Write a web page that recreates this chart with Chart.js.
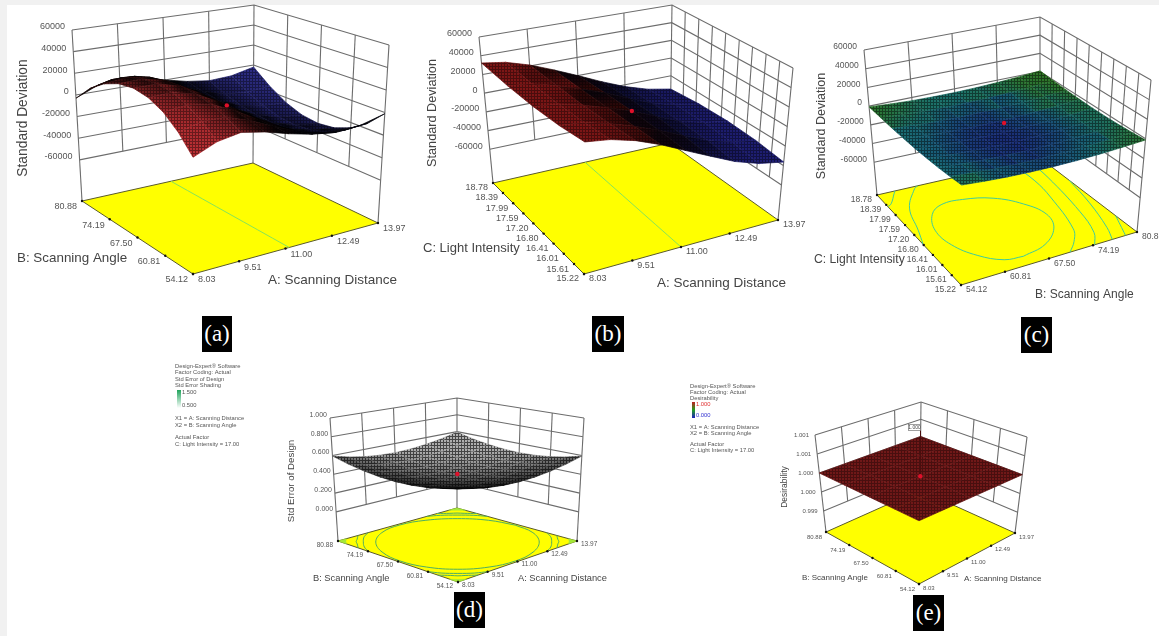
<!DOCTYPE html>
<html>
<head>
<meta charset="utf-8">
<title>Response surfaces</title>
<script src="https://cdn.jsdelivr.net/npm/chart.js@4"></script>
<style>
  html, body { margin: 0; padding: 0; background: #f1f1f1; overflow: hidden; }
  #sheet { position: absolute; left: 7px; top: 5px; width: 1152px; height: 631px; background: #fff; }
  canvas { position: absolute; }
  .tag {
    position: absolute; background: #000; color: #fff; text-align: center;
    font: 23px/35px "Liberation Serif", serif; height: 36px;
  }
</style>
</head>
<body>
<div id="sheet"></div>
<div id="page"></div>
<script>
// axis ticks
const distanceTicks = ["8.03", "9.51", "11.00", "12.49", "13.97"];
const angleTicks = ["54.12", "60.81", "67.50", "74.19", "80.88"];
const lightTicks = ["15.22", "15.61", "16.01", "16.41", "16.80", "17.20", "17.59", "17.99", "18.39", "18.78"];
const stdDevTicks = [-60000, -40000, -20000, 0, 20000, 40000, 60000];
const stdDevLabels = ["-60000", "-40000", "-20000", "0", "20000", "40000", "60000"];
const stdErrTicks = [0, 0.2, 0.4, 0.6, 0.8, 1];
const stdErrLabels = ["0.000", "0.200", "0.400", "0.600", "0.800", "1.000"];
const desirTicks = [0.999, 0.9995, 1, 1.0005, 1.001];
const desirLabels = ["0.999", "1.000", "1.000", "1.001", "1.001"];

// surface heights: one row per step of the second factor, one column per step of the first
const surfaceA = [
  [-2000, 6500, 10000, 6000, 0, -5000, -8000, -6500, -1000],
  [12600, 17400, 16900, 9900, 600, -8100, -14600, -16600, -15100],
  [23400, 25500, 22300, 12800, 1000, -10300, -19300, -23800, -24800],
  [29800, 30400, 25400, 14400, 1200, -11600, -22100, -28100, -30600],
  [32000, 32000, 26500, 15000, 1300, -12000, -23000, -29500, -32500],
  [29800, 30400, 25400, 14400, 1200, -11600, -22100, -28100, -30600],
  [23400, 25500, 22300, 12800, 1000, -10300, -19300, -23800, -24800],
  [12600, 17400, 16900, 9900, 600, -8100, -14600, -16600, -15100],
  [-3000, 5500, 9000, 5500, 0, -5000, -8000, -7000, -2000],
];
const surfaceB = [
  [26600, 24000, 18000, 9000, -2000, -13000, -24000, -32000, -36500],
  [24700, 22700, 16900, 9100, 100, -10600, -21300, -28500, -32600],
  [25000, 23000, 17000, 9500, 1100, -9500, -20000, -27000, -31000],
  [27500, 24900, 18400, 10100, 1100, -9800, -20300, -27500, -31800],
  [32200, 28500, 21000, 11000, 0, -11500, -22000, -30000, -35000],
];
const surfaceC = [
  [-2800, -4300, -5400, -5900, -6000, -5500, -4600, -3100, -1200],
  [-3800, -5400, -6400, -7000, -7000, -6600, -5600, -4200, -2200],
  [-4500, -6100, -7100, -7700, -7700, -7300, -6300, -4900, -2900],
  [-4800, -6400, -7400, -8000, -8000, -7600, -6600, -5200, -3200],
  [-4800, -6300, -7400, -7900, -8000, -7500, -6600, -5100, -3200],
  [-4300, -5900, -6900, -7500, -7500, -7100, -6100, -4700, -2700],
  [-3500, -5100, -6100, -6700, -6700, -6300, -5300, -3900, -1900],
  [-2300, -3900, -4900, -5500, -5500, -5100, -4100, -2700, -700],
  [-800, -2300, -3400, -3900, -4000, -3500, -2600, -1100, 800],
];
const surfaceD = [
  [0.595, 0.552, 0.522, 0.504, 0.498, 0.504, 0.522, 0.552, 0.595],
  [0.552, 0.510, 0.479, 0.461, 0.455, 0.461, 0.479, 0.510, 0.552],
  [0.522, 0.479, 0.449, 0.431, 0.424, 0.431, 0.449, 0.479, 0.522],
  [0.504, 0.461, 0.431, 0.412, 0.406, 0.412, 0.431, 0.461, 0.504],
  [0.498, 0.455, 0.424, 0.406, 0.400, 0.406, 0.424, 0.455, 0.498],
  [0.504, 0.461, 0.431, 0.412, 0.406, 0.412, 0.431, 0.461, 0.504],
  [0.522, 0.479, 0.449, 0.431, 0.424, 0.431, 0.449, 0.479, 0.522],
  [0.552, 0.510, 0.479, 0.461, 0.455, 0.461, 0.479, 0.510, 0.552],
  [0.595, 0.552, 0.522, 0.504, 0.498, 0.504, 0.522, 0.552, 0.595],
];
const surfaceE = [
  [1, 1, 1, 1, 1],
  [1, 1, 1, 1, 1],
  [1, 1, 1, 1, 1],
  [1, 1, 1, 1, 1],
  [1, 1, 1, 1, 1],
];

// floor contours as [share of first axis, share of second axis]
const contoursA = [[[0.52, 0], [0.52, 1]]];
const contoursB = [[[0.5, 0], [0.52, 1]]];
const contoursC = [
  [[0.40, 0.09], [0.55, 0.14], [0.67, 0.27], [0.71, 0.42], [0.66, 0.58], [0.55, 0.71], [0.40, 0.77], [0.27, 0.77], [0.18, 0.70], [0.12, 0.55], [0.13, 0.38], [0.20, 0.22], [0.30, 0.11], [0.40, 0.09]],
  [[0, 0.45], [0.04, 0.59], [0.10, 0.81], [0.22, 0.98], [0.25, 1]],
  [[0.62, 0], [0.69, 0.09], [0.75, 0.21], [0.82, 0.58], [0.84, 0.78], [0.83, 1]],
  [[0.76, 0], [0.82, 0.12], [0.87, 0.36], [0.92, 0.78], [0.93, 1]],
  [[0.86, 0], [0.90, 0.13], [0.96, 0.42], [1, 0.7]],
  [[0.935, 0], [0.97, 0.12], [1, 0.22]],
  [[0, 0.87], [0.03, 0.89], [0.095, 0.98], [0.11, 1]],
];
const contoursD = [
  [[0.984, 0.5], [0.947, 0.685], [0.842, 0.842], [0.685, 0.947], [0.5, 0.984], [0.315, 0.947], [0.158, 0.842], [0.053, 0.685], [0.016, 0.5], [0.053, 0.315], [0.158, 0.158], [0.315, 0.053], [0.5, 0.016], [0.685, 0.053], [0.842, 0.158], [0.947, 0.315], [0.984, 0.5]],
  [[1, 0.745], [0.96, 0.82], [0.894, 0.894], [0.82, 0.96], [0.745, 1]],
  [[0, 0.745], [0.04, 0.82], [0.106, 0.894], [0.18, 0.96], [0.255, 1]],
  [[1, 0.255], [0.96, 0.18], [0.894, 0.106], [0.82, 0.04], [0.745, 0]],
  [[0, 0.255], [0.04, 0.18], [0.106, 0.106], [0.18, 0.04], [0.255, 0]],
  [[1, 0.832], [0.95, 0.89], [0.924, 0.924], [0.89, 0.95], [0.832, 1]],
  [[0, 0.832], [0.05, 0.89], [0.076, 0.924], [0.11, 0.95], [0.168, 1]],
  [[1, 0.168], [0.95, 0.11], [0.924, 0.076], [0.89, 0.05], [0.832, 0]],
  [[0, 0.168], [0.05, 0.11], [0.076, 0.076], [0.11, 0.05], [0.168, 0]],
];
const cornerPatchesD = [
  [[1, 0.93], [0.967, 0.967], [0.93, 1], [1, 1], [1, 0.93]],
  [[0, 0.93], [0.033, 0.967], [0.07, 1], [0, 1], [0, 0.93]],
  [[1, 0.07], [0.967, 0.033], [0.93, 0], [1, 0], [1, 0.07]],
  [[0, 0.07], [0.033, 0.033], [0.07, 0], [0, 0], [0, 0.07]],
];

const legendD = [
  ["Design-Expert® Software", 366], ["Factor Coding: Actual", 372], ["Std Error of Design", 379], ["Std Error Shading", 385],
  ["X1 = A: Scanning Distance", 418], ["X2 = B: Scanning Angle", 425], ["Actual Factor", 437], ["C: Light Intensity = 17.00", 444],
];
const legendE = [
  ["Design-Expert® Software", 386], ["Factor Coding: Actual", 392], ["Desirability", 398],
  ["X1 = A: Scanning Distance", 427], ["X2 = B: Scanning Angle", 433], ["Actual Factor", 444], ["C: Light Intensity = 17.00", 450],
];

const FONT = '"Liberation Sans", Arial, sans-serif';

const redBlue = (r, b) => (u) => (u < 0.5 ? r : b).map((c) => c * Math.min(1, Math.abs(u - 0.5) * 3 + 0.05));

const panels = [
  {
    tag: "(a)", tagBox: [202, 316, 30], box: [0, 0, 410, 300],
    floor: [[193, 274], [378, 223], [253, 163], [82, 201]],
    top: [[193, 82], [389, 45], [254, 5], [72, 30]],
    zFloor: -98000, zMax: 60000, zTicks: stdDevTicks, zLabels: stdDevLabels, surface: surfaceA, marker: 1300,
    xTicks: distanceTicks, yTicks: angleTicks, contours: contoursA, contourColor: "#86e45a",
    zOff: [-7, -3], xOff: [5, 6], yOff: [-5, 6], tickPx: 9,
    titles: [["Standard Deviation", 23, 118, 13.8, -90], ["A: Scanning Distance", 268, 280, 13.5], ["B: Scanning Angle", 17, 258, 13.4]],
    tint: redBlue([190, 48, 52], [52, 52, 155]), areaPower: 0.7, mesh: 0.4,
  },
  {
    tag: "(b)", tagBox: [592, 316, 32], box: [405, 0, 405, 300],
    floor: [[584, 274], [778, 220], [670, 143], [493, 183]],
    top: [[585, 106], [793, 68], [672, 5], [479, 37]],
    zFloor: -96000, zMax: 60000, zTicks: stdDevTicks, zLabels: stdDevLabels, surface: surfaceB, marker: 1100,
    xTicks: distanceTicks, yTicks: lightTicks, contours: contoursB, contourColor: "#86e45a",
    zOff: [-7, -3], xOff: [5, 5], yOff: [-5, 5], tickPx: 9,
    titles: [["Standard Deviation", 432, 113, 12.7, -90], ["A: Scanning Distance", 657, 283, 13.5], ["C: Light Intensity", 423, 248, 13]],
    tint: redBlue([125, 22, 22], [30, 30, 115]), areaPower: 0.6, mesh: 0.4,
  },
  {
    tag: "(c)", tagBox: [1021, 317, 31], box: [810, 0, 349, 310],
    floor: [[961, 285], [1137, 232], [1040, 158], [877, 195]],
    top: [[962, 117], [1151, 80], [1040, 17], [864, 50]],
    zFloor: -95000, zMax: 60000, zTicks: stdDevTicks, zLabels: stdDevLabels, surface: surfaceC, marker: 1700,
    xTicks: angleTicks, yTicks: lightTicks, contours: contoursC, contourColor: "#3fcb9c",
    zOff: [-7, -3], xOff: [5, 5], yOff: [-5, 5], tickPx: 8.5,
    titles: [["Standard Deviation", 822, 126, 12.5, -90], ["B: Scanning Angle", 1035, 295, 12], ["C: Light Intensity", 814, 260, 12.2]],
    heat: [[26, 42, 120], [24, 112, 120], [48, 118, 36]], heatGain: 1.5, mesh: 0.45,
  },
  {
    tag: "(d)", tagBox: [454, 592, 31], box: [170, 355, 445, 240],
    floor: [[458, 582], [577, 541], [457, 508], [338, 541]],
    top: [[458, 446], [584, 418], [457, 398], [330, 418]],
    zFloor: -0.31, zMax: 1, zTicks: stdErrTicks, zLabels: stdErrLabels, surface: surfaceD, marker: 0.425,
    xTicks: distanceTicks, yTicks: angleTicks, contours: contoursD, patches: cornerPatchesD, contourColor: "#4fae62",
    zOff: [-3, -3], xOff: [4, 3], yOff: [-5, 4], tickPx: 6.5, zPx: 7,
    titles: [["Std Error of Design", 291, 481, 9.7, -90], ["A: Scanning Distance", 518, 578, 9.3], ["B: Scanning Angle", 313, 578, 9.3]],
    tint: () => [175, 175, 175], areaPower: 1.3, mesh: 0.6,
    legend: legendD, barLabels: [["1.500", 392, "#555"], ["0.500", 405, "#555"]], legendX: 175,
    bar: [177, 390, 4, 18, ["#1fa35b", "#ffffff"]],
  },
  {
    tag: "(e)", tagBox: [913, 595, 31], box: [685, 375, 374, 225],
    floor: [[919, 584], [1015, 533], [920, 490], [826, 532]],
    top: [[919, 480], [1027, 437], [921, 402], [815, 435]],
    zFloor: 0.99845, zMax: 1.001, zTicks: desirTicks, zLabels: desirLabels, surface: surfaceE, marker: 1,
    xTicks: distanceTicks, yTicks: angleTicks, contours: [], contourColor: "#86e45a",
    zOff: [-6, 0], xOff: [4, 4], yOff: [-4, 5], tickPx: 6, zPx: 6,
    titles: [["Desirability", 785, 487, 8.5, -90], ["A: Scanning Distance", 964, 579, 8.1], ["B: Scanning Angle", 802, 578, 8]],
    tint: () => [112, 24, 24], areaPower: 0, mesh: 0.35,
    legend: legendE, barLabels: [["1.000", 404, "#e03030"], ["0.000", 415, "#3030d0"]], legendX: 690,
    bar: [692, 402, 3, 16, ["#c02020", "#20a020", "#2020c0"]], callout: "1.000",
  },
];

function mix(a, b, t) {
  return [a[0] * (1 - t) + b[0] * t, a[1] * (1 - t) + b[1] * t];
}

// three dimensional box -> page position, from the eight corners of the plot
function projector(p) {
  return (u, v, z) => {
    const w = (z - p.zFloor) / (p.zMax - p.zFloor);
    const onFloor = mix(mix(p.floor[0], p.floor[1], u), mix(p.floor[3], p.floor[2], u), v);
    const onTop = mix(mix(p.top[0], p.top[1], u), mix(p.top[3], p.top[2], u), v);
    const q = mix(onFloor, onTop, w);
    return { x: q[0], y: q[1] };
  };
}

function share(ticks, i) {
  const lo = parseFloat(ticks[0]);
  const hi = parseFloat(ticks[ticks.length - 1]);
  return (parseFloat(ticks[i]) - lo) / (hi - lo);
}

function polyArea(pts) {
  let s = 0;
  for (let i = 0; i < pts.length - 1; i++) s += pts[i].x * pts[i + 1].y - pts[i + 1].x * pts[i].y;
  return Math.abs(s) / 2;
}

// the fine mesh of the original surfaces, laid over the shaded cells
function meshPattern(strength) {
  const c = document.createElement("canvas");
  c.width = 3;
  c.height = 3;
  const g = c.getContext("2d");
  g.fillStyle = `rgba(0,0,0,${strength})`;
  g.fillRect(0, 0, 3, 1);
  g.fillRect(0, 1, 1, 2);
  return g.createPattern(c, "repeat");
}

function heatColor(stops, t) {
  const s = t < 0.5 ? 0 : 1;
  const f = t < 0.5 ? t * 2 : t * 2 - 1;
  return stops[s].map((c, k) => c * (1 - f) + stops[s + 1][k] * f);
}

function css(rgb) {
  return `rgb(${rgb.map(Math.round).join(",")})`;
}

function line(points, color, width, extra) {
  return Object.assign({ data: points, showLine: true, borderColor: color, borderWidth: width, pointRadius: 0, fill: false }, extra || {});
}

function buildDatasets(p, ctx) {
  const at = projector(p);
  const ds = [];
  const zTop = p.zTicks[p.zTicks.length - 1];
  const zLow = p.zTicks[0];
  const grid = "#6c6c6c";

  // back walls
  p.zTicks.forEach((z) => {
    ds.push(line([at(0, 1, z), at(1, 1, z), at(1, 0, z)], grid, 1.1));
  });
  p.xTicks.forEach((t, i) => {
    if (i > 0 && i < p.xTicks.length - 1) ds.push(line([at(share(p.xTicks, i), 1, zLow), at(share(p.xTicks, i), 1, zTop)], grid, 1.1));
  });
  p.yTicks.forEach((t, i) => {
    if (i > 0 && i < p.yTicks.length - 1) ds.push(line([at(1, share(p.yTicks, i), zLow), at(1, share(p.yTicks, i), zTop)], grid, 1.1));
  });
  [[0, 1], [1, 1], [1, 0]].forEach((c) => {
    ds.push(line([at(c[0], c[1], p.zFloor), at(c[0], c[1], zTop)], grid, 1.1));
  });

  // floor with its contours and tick dots
  const outline = [at(0, 0, p.zFloor), at(1, 0, p.zFloor), at(1, 1, p.zFloor), at(0, 1, p.zFloor), at(0, 0, p.zFloor)];
  ds.push(line(outline, "#5a5a2a", 1, { fill: "shape", backgroundColor: "#ffff00" }));
  (p.patches || []).forEach((patch) => {
    ds.push(line(patch.map((c) => at(c[0], c[1], p.zFloor)), "#a4e838", 0.5, { fill: "shape", backgroundColor: "#a4e838" }));
  });
  p.contours.forEach((c) => {
    ds.push(line(c.map((q) => at(q[0], q[1], p.zFloor)), p.contourColor, 1, { tension: 0.4 }));
  });
  const dots = [];
  p.xTicks.forEach((t, i) => dots.push(at(share(p.xTicks, i), 0, p.zFloor)));
  p.yTicks.forEach((t, i) => dots.push(at(0, share(p.yTicks, i), p.zFloor)));
  ds.push({ data: dots, showLine: false, pointRadius: 1.2, pointBackgroundColor: "#111", pointBorderWidth: 0 });

  // surface: work out a shade per cell, then blend it across the cell
  const rows = p.surface.length;
  const cols = p.surface[0].length;
  const flat = p.surface.flat();
  const zMin = Math.min(...flat);
  const zHigh = Math.max(...flat);
  const pos = (i, j) => at(i / (cols - 1), j / (rows - 1), p.surface[j][i]);
  const cellPts = (i, j) => [pos(i, j), pos(i + 1, j), pos(i + 1, j + 1), pos(i, j + 1), pos(i, j)];
  let maxArea = 0;
  for (let j = 0; j < rows - 1; j++) {
    for (let i = 0; i < cols - 1; i++) maxArea = Math.max(maxArea, polyArea(cellPts(i, j)));
  }
  const cellRgb = [];
  for (let j = 0; j < rows - 1; j++) {
    cellRgb.push([]);
    for (let i = 0; i < cols - 1; i++) {
      if (p.heat) {
        const mean = (p.surface[j][i] + p.surface[j][i + 1] + p.surface[j + 1][i + 1] + p.surface[j + 1][i]) / 4;
        cellRgb[j].push(heatColor(p.heat, Math.min(1, ((mean - zMin) / (zHigh - zMin)) * p.heatGain)));
      } else {
        const k = Math.pow(Math.min(1, polyArea(cellPts(i, j)) / (maxArea * 0.85)), p.areaPower);
        cellRgb[j].push(p.tint((i + 0.5) / (cols - 1)).map((c) => c * k));
      }
    }
  }
  const cornerRgb = (i, j) => {
    const near = [];
    [[j - 1, i - 1], [j - 1, i], [j, i - 1], [j, i]].forEach(([b, a]) => {
      if (b >= 0 && b < rows - 1 && a >= 0 && a < cols - 1) near.push(cellRgb[b][a]);
    });
    return [0, 1, 2].map((k) => near.reduce((s, c) => s + c[k], 0) / near.length);
  };
  const [left, top] = p.box;
  const pattern = meshPattern(p.mesh);
  for (let j = rows - 2; j >= 0; j--) {
    for (let i = cols - 2; i >= 0; i--) {
      const pts = cellPts(i, j);
      const corners = [cornerRgb(i, j), cornerRgb(i + 1, j), cornerRgb(i + 1, j + 1), cornerRgb(i, j + 1)];
      const lum = corners.map((c) => c[0] + c[1] + c[2]);
      const lo = lum.indexOf(Math.min(...lum));
      const hi = lum.indexOf(Math.max(...lum));
      let paint = css(corners[0]);
      if (lo !== hi) {
        paint = ctx.createLinearGradient(pts[lo].x - left, pts[lo].y - top, pts[hi].x - left, pts[hi].y - top);
        paint.addColorStop(0, css(corners[lo]));
        paint.addColorStop(1, css(corners[hi]));
      }
      ds.push(line(pts, paint, 0.7, { fill: "shape", backgroundColor: paint }));
      ds.push(line(pts, "rgba(0,0,0,0)", 0, { fill: "shape", backgroundColor: pattern }));
    }
  }

  // centre point
  if (p.callout) {
    ds.push(line([at(0.5, 0.5, p.marker), at(0.5, 0.5, p.zMax)], "#4a0d0d", 1));
  }
  ds.push({ data: [at(0.5, 0.5, p.marker)], showLine: false, pointRadius: 2.2, pointBackgroundColor: "#e0102a", pointBorderWidth: 0 });

  return ds.reverse();
}

const textPlugin = {
  id: "plotText",
  afterDatasetsDraw(chart, args, opts) {
    const p = opts.panel;
    const at = projector(p);
    const { ctx, scales } = chart;
    const X = (v) => scales.x.getPixelForValue(v);
    const Y = (v) => scales.y.getPixelForValue(v);
    const put = (str, x, y, px, color, align, rot) => {
      ctx.save();
      ctx.font = `${px}px ${FONT}`;
      ctx.fillStyle = color;
      ctx.textAlign = align || "left";
      ctx.textBaseline = "middle";
      ctx.translate(X(x), Y(y));
      if (rot) ctx.rotate((rot * Math.PI) / 180);
      ctx.fillText(str, 0, 0);
      ctx.restore();
    };
    p.zTicks.forEach((z, i) => {
      const q = at(0, 1, z);
      put(p.zLabels[i], q.x + p.zOff[0], q.y + p.zOff[1], p.zPx || p.tickPx, "#555", "right");
    });
    p.xTicks.forEach((t, i) => {
      const q = at(share(p.xTicks, i), 0, p.zFloor);
      put(t, q.x + p.xOff[0], q.y + p.xOff[1], p.tickPx, "#555", "left");
    });
    p.yTicks.forEach((t, i) => {
      const q = at(0, share(p.yTicks, i), p.zFloor);
      put(t, q.x + p.yOff[0], q.y + p.yOff[1], p.tickPx, "#555", "right");
    });
    p.titles.forEach((t) => {
      put(t[0], t[1], t[2], t[3], "#444", t[4] ? "center" : "left", t[4]);
    });
    if (p.legend) {
      p.legend.forEach((l) => put(l[0], p.legendX, l[1], 5.8, "#555"));
      const b = p.bar;
      const g = ctx.createLinearGradient(0, Y(b[1]), 0, Y(b[1] + b[3]));
      b[4].forEach((c, i) => g.addColorStop(i / (b[4].length - 1), c));
      ctx.fillStyle = g;
      ctx.fillRect(X(b[0]), Y(b[1]), b[2], b[3]);
      p.barLabels.forEach((l) => put(l[0], b[0] + b[2] + 1, l[1], 5.8, l[2]));
    }
    if (p.callout) {
      const q = at(0.5, 0.5, p.zMax);
      ctx.strokeStyle = "#4a0d0d";
      ctx.lineWidth = 1;
      ctx.beginPath();
      ctx.moveTo(X(q.x), Y(q.y));
      ctx.lineTo(X(q.x), Y(q.y - 9));
      ctx.stroke();
      ctx.fillStyle = "#fff";
      ctx.strokeStyle = "#777";
      ctx.lineWidth = 0.7;
      ctx.fillRect(X(q.x - 12), Y(q.y - 14), 12, 6);
      ctx.strokeRect(X(q.x - 12), Y(q.y - 14), 12, 6);
      put(p.callout, q.x - 6, q.y - 11, 5, "#444", "center");
    }
  },
};

const page = document.getElementById("page");
panels.forEach((p) => {
  const [left, top, w, h] = p.box;
  const canvas = document.createElement("canvas");
  canvas.width = w;
  canvas.height = h;
  canvas.style.left = left + "px";
  canvas.style.top = top + "px";
  page.appendChild(canvas);
  const ctx = canvas.getContext("2d");

  new Chart(ctx, {
    type: "scatter",
    data: { datasets: buildDatasets(p, ctx) },
    options: {
      responsive: false,
      animation: false,
      layout: { padding: 0, autoPadding: false },
      plugins: { legend: { display: false }, tooltip: { enabled: false }, plotText: { panel: p } },
      scales: {
        x: { type: "linear", min: left, max: left + w, display: false },
        y: { type: "linear", min: top, max: top + h, reverse: true, display: false },
      },
    },
    plugins: [textPlugin],
  });

  const tag = document.createElement("div");
  tag.className = "tag";
  tag.textContent = p.tag;
  tag.style.left = p.tagBox[0] + "px";
  tag.style.top = p.tagBox[1] + "px";
  tag.style.width = p.tagBox[2] + "px";
  page.appendChild(tag);
});
</script>
</body>
</html>
